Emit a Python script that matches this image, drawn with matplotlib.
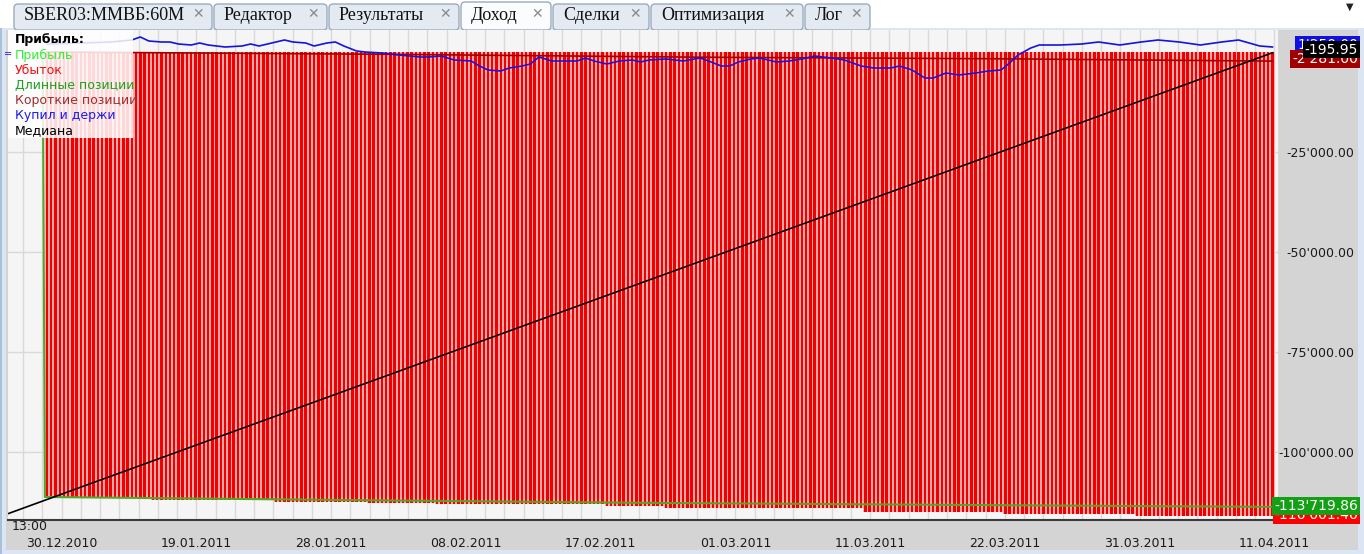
import numpy as np
import matplotlib.pyplot as plt
from matplotlib.patches import Rectangle, FancyBboxPatch
from matplotlib.transforms import IdentityTransform
from matplotlib.ticker import FuncFormatter

# ---- data ----
n_bars = 290
loss_levels = [-111500, -112000, -112500, -112750, -113000, -113500,
               -114000, -115000, -115500, -116001.46]
loss_counts = [25, 29, 22, 16, 40, 14, 47, 33, 31, 33]

bh_x = [0, 8, 15, 20, 22, 24, 27, 29, 31, 34, 36, 38, 42, 46, 48, 50, 54, 56, 58, 61,
        63, 66, 68, 70, 73, 75, 79, 81, 83, 88, 90, 93, 96, 100, 102, 104, 107, 109,
        112, 114, 116, 119, 121, 125, 127, 129, 132, 135, 138, 140, 142, 146, 148,
        150, 154, 156, 159, 161, 163, 166, 168, 172, 175, 178, 181, 185, 188, 192,
        195, 199, 201, 204, 207, 209, 212, 215, 219, 222, 225, 227, 229, 232, 234,
        239, 244, 248, 253, 258, 262, 267, 272, 277, 281, 286, 289]
bh_val = [2000, 2250, 2500, 3000, 3750, 2750, 2500, 2500, 2000, 1750, 2250, 1750, 1250,
          1500, 2000, 1500, 2500, 3000, 2500, 2250, 1500, 2250, 2500, 1500, 250, 0,
          -250, -500, -750, -1250, -1250, -1000, -2000, -2250, -3500, -4500, -4750,
          -4000, -3500, -3000, -1250, -2250, -2250, -2250, -1500, -2250, -3000, -2250,
          -2000, -2500, -2000, -1750, -2000, -2250, -1500, -2250, -3500, -3500, -2500,
          -1750, -1500, -2500, -2250, -1750, -1000, -1500, -2000, -3500, -4000, -4000,
          -3500, -4500, -6500, -6500, -5250, -5750, -5250, -4750, -4500, -2750, -750,
          1000, 1750, 1750, 2000, 2500, 1750, 2500, 3000, 2500, 1750, 2500, 3000, 1500,
          1250]

long_x = [-1.0, -0.5, 70, 140, 225, 289]
long_val = [0, -111250, -112000, -112700, -113300, -113719.86]

short_x = [0, 83, 154, 225, 289]
short_val = [0, -600, -1300, -1700, -2281.00]

median_x = [-9.4, 289]
median_val = [-115500, -195.95]

date_labels = ['30.12.2010', '19.01.2011', '28.01.2011', '08.02.2011', '17.02.2011',
               '01.03.2011', '11.03.2011', '22.03.2011', '31.03.2011', '11.04.2011']
y_ticks = [-100000, -75000, -50000, -25000]

tab_names = ['SBER03:ММВБ:60M', 'Редактор', 'Результаты', 'Доход', 'Сделки',
             'Оптимизация', 'Лог']
tab_edges = [14, 214, 329, 461, 553, 651, 805, 872]
active_tab = 3

legend_items = [('Прибыль', '#33ee33'), ('Убыток', '#ee1111'),
                ('Длинные позиции', '#1ea01e'), ('Короткие позиции', '#a52a2a'),
                ('Купил и держи', '#1a1aee'), ('Медиана', '#000000')]

# ---- figure ----
W, H = 1364, 554
fig = plt.figure(figsize=(W / 100, H / 100), dpi=100)
fig.patch.set_facecolor('#ffffff')
pix = IdentityTransform()


def frect(x0, y0, x1, y1, color, z=-5):
    fig.add_artist(Rectangle((x0, H - y1), x1 - x0, y1 - y0, transform=pix,
                             facecolor=color, edgecolor='none', zorder=z))


# window frame and grey panels
frect(0, 28, W, H, '#dbe5f3')
frect(0, 28, 2, H, '#a9bfdc', z=-4)
frect(6, 30, 1358, 550, '#d4d4d4', z=-4)

# tabs
for i, name in enumerate(tab_names):
    x0, x1 = tab_edges[i], tab_edges[i + 1] - 2
    top = 2 if i == active_tab else 4
    fc = '#fbfcfd' if i == active_tab else '#e4eaf1'
    fig.add_artist(FancyBboxPatch((x0, H - 30), x1 - x0, 30 - top,
                                  boxstyle='round,pad=0,rounding_size=4',
                                  transform=pix, facecolor=fc, edgecolor='#9aabbf',
                                  lw=1, zorder=-3))
    fig.text((x0 + 10) / W, 1 - 16 / H, name, ha='left', va='center', fontsize=13,
             family=['Liberation Serif', 'DejaVu Serif'], color='#111111')
    fig.text((x1 - 14) / W, 1 - 14 / H, '✕', ha='center', va='center',
             fontsize=10, color='#8a8a8a', family='DejaVu Sans')
fig.text(1350 / W, 1 - 7 / H, '▼', ha='center', va='center', fontsize=7, color='#222222')

# ---- plot area ----
ax = fig.add_axes([8 / W, 1 - 520 / H, 1270 / W, 490 / H])
ax.set_facecolor('#f5f5f5')
x_min, x_max = -9.2, 290.3
ax.set_xlim(x_min, x_max)
ax.set_ylim(-117000, 5500)

grid_x = np.arange(-5.66, x_max, 4.54)
ax.set_xticks(grid_x, minor=True)
tick_pos = grid_x[2::7][:len(date_labels)]
ax.set_xticks(tick_pos)
ax.set_xticklabels(date_labels)
ax.set_yticks(y_ticks)
ax.yaxis.tick_right()
ax.yaxis.set_major_formatter(FuncFormatter(lambda v, p: f"{v:,.2f}".replace(',', "'")))
ax.tick_params(axis='x', which='both', length=0, pad=12, labelsize=9, labelcolor='#1a1a1a')
ax.tick_params(axis='y', length=0, pad=55, labelsize=9, labelcolor='#1a1a1a')
for lab in ax.get_yticklabels():
    lab.set_horizontalalignment('right')
ax.grid(which='both', axis='x', color='#d9d9d9', lw=1)
ax.grid(which='major', axis='y', color='#d9d9d9', lw=1)
ax.set_axisbelow(True)
for s in ['top', 'left', 'right']:
    ax.spines[s].set_visible(False)
ax.spines['bottom'].set_color('#3a3a3a')
ax.spines['bottom'].set_linewidth(1.5)

# loss bars
idx = np.arange(n_bars)
loss = np.repeat(loss_levels, loss_counts)
ax.bar(idx, loss, width=1.0, color='#ffaaaa', edgecolor='none', zorder=2)
ax.bar(idx, loss, width=0.58, color='#f20000', edgecolor='none', zorder=2.1)

ax.plot(short_x, short_val, color='#a00000', lw=1.2, zorder=3)
ax.plot(long_x, long_val, color='#4fa82a', lw=1.5, zorder=3)
ax.plot(median_x, median_val, color='#000000', lw=1.2, zorder=3.2)
ax.plot(bh_x, bh_val, color='#1414dd', lw=1.2, zorder=3.1)

# legend block
leg = Rectangle((0, (520 - 138) / 490), 125 / 1270, 108 / 490, transform=ax.transAxes,
                facecolor='white', alpha=0.85, edgecolor='none', zorder=5)
ax.add_patch(leg)
ax.text(7 / 1270, (520 - 40) / 490, 'Прибыль:', transform=ax.transAxes, fontsize=9,
        fontweight='bold', va='center', color='#000000', zorder=6)
for k, (name, col) in enumerate(legend_items):
    t = ax.text(7 / 1270, (520 - 55 - 15.2 * k) / 490, name, transform=ax.transAxes,
                fontsize=9, va='center', color=col, zorder=6)
    t.set_clip_path(leg)
ax.text(-4 / 1270, (520 - 54) / 490, '=', transform=ax.transAxes, fontsize=7,
        va='center', color='#1a1aee', zorder=6)

# last-value boxes on the right axis (value, colour, layer, shift up in px)
boxes = [(bh_val[-1], '#1010e0', 4, 2), (short_val[-1], '#a00000', 5, 2),
         (median_val[-1], '#000000', 6, 3), (loss[-1], '#ff0000', 4, 1),
         (long_val[-1], '#14a014', 5, 1)]
px_val = 122500 / 490
for val, col, z, up in boxes:
    ax.annotate(f"{val:,.2f}".replace(',', "'"), xy=(1.0, val),
                xycoords=('axes fraction', 'data'),
                xytext=(1350 / 1270, val + up * px_val),
                textcoords=('axes fraction', 'data'), ha='right', va='center',
                fontsize=10, color='white', zorder=z, annotation_clip=False,
                bbox=dict(boxstyle='square,pad=0.12', facecolor=col, edgecolor='none'))

fig.text(12 / W, 1 - 527 / H, '13:00', ha='left', va='center', fontsize=9, color='#1a1a1a')

fig.savefig('out.png', dpi=100, facecolor=fig.get_facecolor())
